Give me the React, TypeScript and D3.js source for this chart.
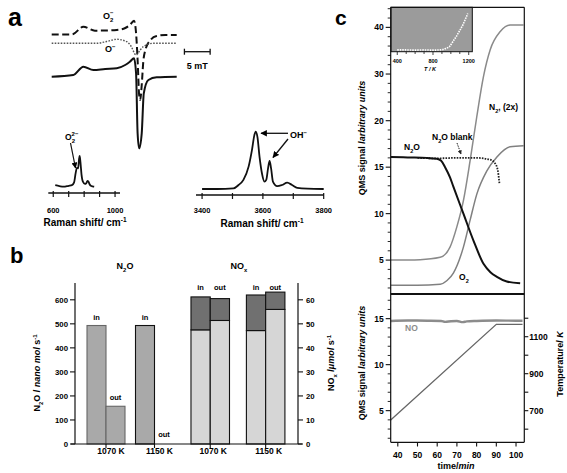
import React from "react";
import * as d3 from "d3";

// ---------------- Panel a: EPR spectra (field / mT, signal / a.u.) ----------------
const eprO2Field = [0, 3.6, 4.2, 6.15, 8.4, 10.4, 12.65, 14.3, 15.2, 16.0, 16.4, 16.7, 17.0, 17.2, 17.5, 17.8, 18.2, 19.2, 20.4, 22.1, 24.3];
const eprO2Signal = [115.5, 115.5, 116, 123.3, 119.3, 119.5, 120, 122, 125, 129.3, 117, 90, 55, 50, 65, 88, 100, 110, 114, 115, 115];
const eprOField = [0, 8.75, 10.7, 12.65, 14.6, 15.4, 16.4, 17.2, 17.8, 19.8, 24.3];
const eprOSignal = [106.7, 106.7, 108.5, 110.7, 108.3, 104, 95, 100, 103.3, 106.7, 106.7];
const eprSumField = [0, 4.2, 6.15, 8.1, 10.4, 12.65, 14.28, 15.2, 16.0, 16.4, 16.7, 17.0, 17.5, 17.9, 18.8, 20.4, 24.3];
const eprSumSignal = [73.3, 75, 83.3, 80, 81, 81.7, 85, 88.3, 91.7, 76.7, 16.7, 1.7, 16.7, 56.7, 70, 72.7, 73.3];
const scaleBarMT = 5;

// ---------------- Panel a: Raman spectra ----------------
const ramanLowShift = [613, 640, 666, 700, 721, 735, 745, 753, 761, 767, 771, 776, 783, 792, 805, 813, 822, 828, 836, 843, 855, 865];
const ramanLowInt = [0.06, 0.03, 0.01, 0.04, 0.06, 0.15, 0.45, 0.62, 0.6, 0.9, 1.0, 0.8, 0.4, 0.17, 0.1, 0.12, 0.2, 0.17, 0.08, 0.04, 0.02, 0.01];
const ramanLowTicks = [600, 700, 800, 900, 1000];
const ramanLowLabels = [600, 1000];
const ramanHighShift = [3400, 3450, 3503, 3520, 3536, 3553, 3564, 3572, 3576, 3582, 3589, 3597, 3605, 3611, 3617, 3622, 3627, 3633, 3647, 3663, 3680, 3696, 3713, 3746, 3800];
const ramanHighInt = [0, 0, 0.01, 0.07, 0.16, 0.39, 0.68, 0.94, 1, 0.91, 0.56, 0.27, 0.13, 0.16, 0.36, 0.49, 0.36, 0.13, 0.05, 0.07, 0.11, 0.07, 0.02, 0.005, 0];
const ramanHighTicks = [3400, 3500, 3600, 3700, 3800];
const ramanHighLabels = [3400, 3600, 3800];

// ---------------- Panel b: bars ----------------
const groupsK = ["1070 K", "1150 K"];
const n2oIn = [493, 493];
const n2oOut = [157, 0];
const noxInTotal = [61.2, 62];
const noxInLower = [47.5, 47.2];
const noxOutTotal = [60.5, 63.2];
const noxOutLower = [51.4, 56];
const n2oTicks = [0, 100, 200, 300, 400, 500, 600];
const noxTicks = [0, 10, 20, 30, 40, 50, 60];

// ---------------- Panel c: QMS signals vs time ----------------
const timeN2O = [36.45, 45, 54.7, 59.8, 62, 64, 66.5, 68.2, 73.3, 78.4, 83.5, 87, 90.3, 95.3, 102.1];
const sigN2O = [16.1, 16.05, 16.0, 15.9, 15.7, 15.0, 13.9, 12.9, 10.0, 7.1, 4.6, 3.7, 3.2, 2.7, 2.5];
const timeBlank = [50, 60, 70, 80, 86.9, 89.4, 90.8, 91.4, 91.6];
const sigBlank = [16.0, 15.95, 16.0, 16.0, 15.8, 15.4, 14.6, 13.6, 13.2];
const timeO2 = [36.45, 50, 61.5, 65, 68.2, 73.3, 76.7, 80.1, 85.2, 90.3, 97.0, 103.8];
const sigO2 = [2.3, 2.3, 2.4, 2.8, 3.6, 6.4, 9.3, 12.1, 14.6, 16.1, 17.2, 17.3];
const timeN2 = [36.45, 51.3, 61.5, 66.5, 70.0, 73.3, 76.7, 80.1, 83.5, 86.9, 92.0, 97.0, 103.8];
const sigN2 = [5.0, 5.05, 5.3, 6.4, 8.6, 11.4, 15.7, 20.9, 29.5, 35.2, 39.1, 40.5, 40.5];
const topMajorTicks = [5, 10, 15, 20, 30, 40];
const topMinorTicks = [2, 3, 4, 6, 7, 8, 9, 11, 12, 13, 14, 16, 17, 18, 19, 22, 24, 26, 28, 32, 34, 36, 38, 42, 44];
// inset: signal vs temperature
const insetT = [400, 500, 600, 700, 800, 870, 914, 950, 987, 1020, 1060, 1100, 1134, 1160, 1189];
const insetSig = [0.04, 0.04, 0.035, 0.04, 0.035, 0.04, 0.05, 0.08, 0.12, 0.22, 0.34, 0.48, 0.6, 0.72, 0.86];
const insetTicks = [400, 500, 600, 700, 800, 900, 1000, 1100, 1200];
const insetLabels = [400, 800, 1200];
// bottom: NO signal and temperature ramp
const timeNO = [36.4, 45, 55, 62, 64, 67, 70, 73, 75, 80, 90, 100, 103.3];
const sigNO = [14.75, 14.8, 14.78, 14.75, 14.65, 14.72, 14.75, 14.62, 14.7, 14.75, 14.8, 14.78, 14.78];
const timeTemp = [36.4, 90, 103.3];
const tempK = [650, 1167, 1167];
const timeTicks = [40, 50, 60, 70, 80, 90, 100];
const botMajorTicks = [5, 10, 15];
const botMinorTicks = [2, 3, 4, 6, 7, 8, 9, 11, 12, 13, 14, 16, 17];
const tempTicks = [600, 700, 800, 900, 1000, 1100, 1200];
const tempLabels = [700, 900, 1100];

const FONT = "Arial, 'Liberation Sans', Helvetica, sans-serif";

function makeLine(xs: number[], ys: number[], sx: (v: number) => number, sy: (v: number) => number, curve: any = d3.curveMonotoneX) {
  return d3.line<number>().x((i) => sx(xs[i])).y((i) => sy(ys[i])).curve(curve)(d3.range(xs.length)) || "";
}

// chemical formula: parts of [text, isSubscript]
function Chem({ parts, fs }: { parts: [string, boolean][]; fs: number }) {
  let shifted = false;
  const out: any[] = [];
  parts.forEach(([t, isSub], i) => {
    let dy = 0;
    if (isSub && !shifted) { dy = fs * 0.3; shifted = true; }
    else if (!isSub && shifted) { dy = -fs * 0.3; shifted = false; }
    out.push(
      <tspan key={i} dy={dy || undefined} fontSize={isSub ? fs * 0.65 : fs}>{t}</tspan>
    );
  });
  return <>{out}</>;
}

export default function App() {
  // ---- panel a scales ----
  const xEpr = d3.scaleLinear().domain([0, 24.3]).range([51.7, 176.7]);
  const yEpr = d3.scaleLinear().domain([0, 150]).range([150, 0]);
  const xRl = d3.scaleLinear().domain([568, 1032]).range([48.3, 120]);
  const yRl = d3.scaleLinear().domain([0, 1]).range([187, 156]);
  const xRh = d3.scaleLinear().domain([3380, 3801]).range([196, 324]);
  const yRh = d3.scaleLinear().domain([0, 1]).range([189, 131.7]);
  const barStart = xEpr(25.8);
  const barEnd = barStart + (xEpr(scaleBarMT) - xEpr(0));

  // ---- panel b scales ----
  const yN2O = d3.scaleLinear().domain([0, 600]).range([444, 299.8]);
  const yNOx = d3.scaleLinear().domain([0, 60]).range([444, 299.8]);
  const xN2OGroup = d3.scaleBand<string>().domain(groupsK).range([77.3, 183.2]).paddingInner(0.2165).paddingOuter(0.2);
  const xNOxGroup = d3.scaleBand<string>().domain(groupsK).range([179.9, 296]).paddingInner(0.305).paddingOuter(0.2);
  const inner = ["in", "out"];
  const xInN2O = d3.scaleBand<string>().domain(inner).range([0, xN2OGroup.bandwidth()]);
  const xInNOx = d3.scaleBand<string>().domain(inner).range([0, xNOxGroup.bandwidth()]);

  // ---- panel c scales ----
  const xT = d3.scaleLinear().domain([36.4, 104.2]).range([390.7, 524.3]);
  const yTop = d3.scaleLinear().domain([1.46, 20, 44.3]).range([293, 120.7, 7.3]);
  const yBot = d3.scaleLinear().domain([1.56, 17.68]).range([442.3, 294]);
  const yTemp = d3.scaleLinear().domain([529, 1331]).range([442.3, 294]);
  const xIn = d3.scaleLinear().domain([330, 1240]).range([391, 472.3]);
  const yIn = d3.scaleLinear().domain([0, 1]).range([51.7, 7.3]);

  const cL = 390.7, cR = 524.3;

  return (
    <svg width={567} height={473} style={{ position: "absolute", left: 0, top: 0, background: "#fff" }} fontFamily={FONT} fontWeight="bold">
      <defs>
        <marker id="ah" viewBox="0 0 10 10" refX="9" refY="5" markerWidth="5" markerHeight="5" orient="auto-start-reverse">
          <path d="M0,0 L10,5 L0,10 z" fill="#000" />
        </marker>
        <marker id="ahs" viewBox="0 0 10 10" refX="9" refY="5" markerWidth="4" markerHeight="4" orient="auto-start-reverse">
          <path d="M0,0 L10,5 L0,10 z" fill="#222" />
        </marker>
      </defs>
      <rect x={0} y={0} width={567} height={473} fill="#fff" />

      {/* ===================== Panel a ===================== */}
      <text x={8} y={26} fontSize={25}>a</text>
      <path d={makeLine(eprO2Field, eprO2Signal, xEpr, yEpr)} fill="none" stroke="#111" strokeWidth={2} strokeDasharray="7,3.5" />
      <path d={makeLine(eprOField, eprOSignal, xEpr, yEpr)} fill="none" stroke="#555" strokeWidth={1.4} strokeDasharray="1.6,1.4" />
      <path d={makeLine(eprSumField, eprSumSignal, xEpr, yEpr)} fill="none" stroke="#111" strokeWidth={2} />
      <text x={103} y={19} fontSize={9}>O<tspan dy={3} fontSize={6}>2</tspan><tspan dx={-3.4} dy={-7.5} fontSize={6}>−</tspan></text>
      <text x={105} y={52} fontSize={9}>O<tspan dy={-3.5} fontSize={6}>−</tspan></text>
      <line x1={barStart} x2={barEnd} y1={51.7} y2={51.7} stroke="#111" strokeWidth={1.3} />
      <line x1={barStart} x2={barStart} y1={48.7} y2={54.7} stroke="#111" strokeWidth={1.3} />
      <line x1={barEnd} x2={barEnd} y1={48.7} y2={54.7} stroke="#111" strokeWidth={1.3} />
      <text x={(barStart + barEnd) / 2} y={69} fontSize={9} textAnchor="middle">5 mT</text>

      {/* Raman low */}
      <path d={makeLine(ramanLowShift, ramanLowInt, xRl, yRl)} fill="none" stroke="#111" strokeWidth={1.8} />
      <line x1={48.3} x2={120} y1={193} y2={193} stroke="#111" strokeWidth={1.3} />
      {ramanLowTicks.map((t) => (
        <line key={t} x1={xRl(t)} x2={xRl(t)} y1={191} y2={197} stroke="#111" strokeWidth={1.2} />
      ))}
      {ramanLowLabels.map((t) => (
        <text key={t} x={xRl(t)} y={212.5} fontSize={7.5} textAnchor="middle">{t}</text>
      ))}
      <text x={85} y={226} fontSize={10} textAnchor="middle">Raman shift/ cm<tspan dy={-4} fontSize={6.5}>-1</tspan></text>
      <text x={65} y={140} fontSize={8.5}>O<tspan dy={3} fontSize={6}>2</tspan><tspan dx={-3.4} dy={-7.5} fontSize={6}>2−</tspan></text>
      <line x1={70.5} y1={143} x2={75.5} y2={168} stroke="#111" strokeWidth={1.2} markerEnd="url(#ah)" />

      {/* Raman high */}
      <path d={makeLine(ramanHighShift, ramanHighInt, xRh, yRh)} fill="none" stroke="#111" strokeWidth={1.8} />
      <line x1={196} x2={324} y1={195} y2={195} stroke="#111" strokeWidth={1.3} />
      {ramanHighTicks.map((t) => (
        <line key={t} x1={xRh(t)} x2={xRh(t)} y1={193} y2={199} stroke="#111" strokeWidth={1.2} />
      ))}
      {ramanHighLabels.map((t) => (
        <text key={t} x={xRh(t)} y={212.5} fontSize={7.5} textAnchor="middle">{t}</text>
      ))}
      <text x={262} y={227} fontSize={10} textAnchor="middle">Raman shift/ cm<tspan dy={-4} fontSize={6.5}>-1</tspan></text>
      <text x={290} y={138} fontSize={9}>OH<tspan dy={-3.5} fontSize={6}>−</tspan></text>
      <line x1={288} y1={133.3} x2={261} y2={133.3} stroke="#111" strokeWidth={1.3} markerEnd="url(#ah)" />
      <line x1={288} y1={139} x2={273} y2={157.5} stroke="#111" strokeWidth={1.3} markerEnd="url(#ah)" />

      {/* ===================== Panel b ===================== */}
      <text x={10} y={263} fontSize={22}>b</text>
      <text x={125} y={269} fontSize={9} textAnchor="middle"><Chem fs={9} parts={[["N", false], ["2", true], ["O", false]]} /></text>
      <text x={239} y={269} fontSize={9} textAnchor="middle"><Chem fs={9} parts={[["NO", false], ["x", true]]} /></text>

      {/* N2O bars */}
      {groupsK.map((g, i) => {
        const gx = xN2OGroup(g) as number;
        const bars = [
          { k: "in", v: n2oIn[i] },
          { k: "out", v: n2oOut[i] },
        ];
        return (
          <g key={"n2o" + g}>
            {bars.map((b) =>
              b.v > 0 ? (
                <rect key={b.k} x={gx + (xInN2O(b.k) as number)} y={yN2O(b.v)} width={xInN2O.bandwidth()} height={yN2O(0) - yN2O(b.v)} fill="#a9a9a9" stroke={i === 1 ? "#111" : "#666"} strokeWidth={1.1} />
              ) : null
            )}
            {bars.map((b) => (
              <text key={"t" + b.k} x={gx + (xInN2O(b.k) as number) + xInN2O.bandwidth() / 2} y={yN2O(b.v) - (b.v > 0 ? 6 : 7.5)} fontSize={7.5} textAnchor="middle">{b.k}</text>
            ))}
          </g>
        );
      })}

      {/* NOx stacked bars */}
      {groupsK.map((g, i) => {
        const gx = xNOxGroup(g) as number;
        const bars = [
          { k: "in", lo: noxInLower[i], tot: noxInTotal[i] },
          { k: "out", lo: noxOutLower[i], tot: noxOutTotal[i] },
        ];
        return (
          <g key={"nox" + g}>
            {bars.map((b) => {
              const bx = gx + (xInNOx(b.k) as number);
              const bw = xInNOx.bandwidth();
              return (
                <g key={b.k}>
                  <rect x={bx} y={yNOx(b.lo)} width={bw} height={yNOx(0) - yNOx(b.lo)} fill="#d6d6d6" stroke="#111" strokeWidth={1.1} />
                  <rect x={bx} y={yNOx(b.tot)} width={bw} height={yNOx(b.lo) - yNOx(b.tot)} fill="#707070" stroke="#111" strokeWidth={1.1} />
                  <text x={bx + bw / 2} y={290} fontSize={7.5} textAnchor="middle">{b.k}</text>
                </g>
              );
            })}
          </g>
        );
      })}

      {/* b axes */}
      <line x1={75} x2={75} y1={283} y2={444} stroke="#111" strokeWidth={1.2} />
      <line x1={298} x2={298} y1={283} y2={444} stroke="#111" strokeWidth={1.2} />
      <line x1={71} x2={302} y1={444} y2={444} stroke="#111" strokeWidth={1.2} />
      {n2oTicks.map((t) => (
        <g key={"lt" + t}>
          <line x1={70} x2={75} y1={yN2O(t)} y2={yN2O(t)} stroke="#111" strokeWidth={1.1} />
          <text x={68} y={yN2O(t)} dy="0.35em" fontSize={7.8} textAnchor="end">{t}</text>
        </g>
      ))}
      {noxTicks.map((t) => (
        <g key={"rt" + t}>
          <line x1={298} x2={303} y1={yNOx(t)} y2={yNOx(t)} stroke="#111" strokeWidth={1.1} />
          <text x={306} y={yNOx(t)} dy="0.35em" fontSize={7.8}>{t}</text>
        </g>
      ))}
      {groupsK.map((g) => {
        const c1 = (xN2OGroup(g) as number) + xN2OGroup.bandwidth() / 2;
        const c2 = (xNOxGroup(g) as number) + xNOxGroup.bandwidth() / 2;
        return (
          <g key={"xt" + g}>
            <line x1={c1} x2={c1} y1={444} y2={448} stroke="#111" strokeWidth={1.1} />
            <line x1={c2} x2={c2} y1={444} y2={448} stroke="#111" strokeWidth={1.1} />
            <text x={c1 + 5} y={454} fontSize={8.5} textAnchor="middle">{g}</text>
            <text x={c2 + 3} y={454} fontSize={8.5} textAnchor="middle">{g}</text>
          </g>
        );
      })}
      <text transform="translate(40,373) rotate(-90)" fontSize={9} textAnchor="middle">
        <Chem fs={9} parts={[["N", false], ["2", true], ["O / ", false]]} /><tspan fontStyle="italic">nano mol</tspan> s<tspan dy={-3.5} fontSize={6}>-1</tspan>
      </text>
      <text transform="translate(334,363) rotate(-90)" fontSize={9} textAnchor="middle">
        <Chem fs={9} parts={[["NO", false], ["x", true], [" /", false]]} /><tspan fontStyle="italic">μmol</tspan> s<tspan dy={-3.5} fontSize={6}>-1</tspan>
      </text>

      {/* ===================== Panel c ===================== */}
      <text x={335} y={25} fontSize={21}>c</text>

      {/* inset */}
      <rect x={391} y={7.3} width={472.3 - 391} height={51.7 - 7.3} fill="#9b9b9b" stroke="#111" strokeWidth={1} />
      <path d={makeLine(insetT, insetSig, xIn, yIn)} fill="none" stroke="#fff" strokeWidth={1.6} strokeDasharray="1.5,1" />
      {insetTicks.map((t) => (
        <line key={"it" + t} x1={xIn(t)} x2={xIn(t)} y1={51.7} y2={insetLabels.includes(t) ? 55 : 54} stroke="#111" strokeWidth={0.8} />
      ))}
      {insetLabels.map((t) => (
        <text key={"il" + t} x={xIn(t)} y={63} fontSize={5.5} textAnchor="middle">{t}</text>
      ))}
      <text x={430} y={71} fontSize={5.5} textAnchor="middle" fontStyle="italic">T / K</text>

      {/* top plot curves */}
      <path d={makeLine(timeO2, sigO2, xT, yTop)} fill="none" stroke="#808080" strokeWidth={1.5} />
      <path d={makeLine(timeN2, sigN2, xT, yTop)} fill="none" stroke="#8a8a8a" strokeWidth={1.5} />
      <path d={makeLine(timeBlank, sigBlank, xT, yTop)} fill="none" stroke="#222" strokeWidth={1.8} strokeDasharray="1.6,1.2" />
      <path d={makeLine(timeN2O, sigN2O, xT, yTop)} fill="none" stroke="#111" strokeWidth={2} />

      {/* top frame */}
      <line x1={cL} x2={cR} y1={7.3} y2={7.3} stroke="#111" strokeWidth={1.2} />
      <line x1={cL} x2={cL} y1={7.3} y2={294} stroke="#111" strokeWidth={1.2} />
      <line x1={cR} x2={cR} y1={7.3} y2={294} stroke="#111" strokeWidth={1.2} />
      <line x1={cL} x2={cR} y1={294} y2={294} stroke="#111" strokeWidth={2.2} />
      {topMajorTicks.map((t) => (
        <g key={"tm" + t}>
          <line x1={cL - 5} x2={cL} y1={yTop(t)} y2={yTop(t)} stroke="#111" strokeWidth={1.1} />
          <text x={cL - 7} y={yTop(t)} dy="0.35em" fontSize={8.5} textAnchor="end">{t}</text>
        </g>
      ))}
      {topMinorTicks.map((t) => (
        <line key={"tn" + t} x1={cL - 3} x2={cL} y1={yTop(t)} y2={yTop(t)} stroke="#111" strokeWidth={0.9} />
      ))}
      <text transform="translate(365,138) rotate(-90)" fontSize={9} textAnchor="middle">
        QMS signal /<tspan fontStyle="italic">arbitrary units</tspan>
      </text>
      <text x={489} y={110} fontSize={8.5}><Chem fs={8.5} parts={[["N", false], ["2", true], [", (2x)", false]]} /></text>
      <text x={432} y={140} fontSize={8.5}><Chem fs={8.5} parts={[["N", false], ["2", true], ["O blank", false]]} /></text>
      <line x1={457} y1={143} x2={461} y2={154} stroke="#222" strokeWidth={1} strokeDasharray="1.5,1" markerEnd="url(#ahs)" />
      <text x={404} y={150} fontSize={8.5}><Chem fs={8.5} parts={[["N", false], ["2", true], ["O", false]]} /></text>
      <text x={459} y={280} fontSize={8.5}><Chem fs={8.5} parts={[["O", false], ["2", true]]} /></text>

      {/* bottom plot */}
      <path d={makeLine(timeNO, sigNO, xT, yBot)} fill="none" stroke="#8c8c8c" strokeWidth={2.4} />
      <path d={makeLine(timeTemp, tempK, xT, yTemp, d3.curveLinear)} fill="none" stroke="#666" strokeWidth={1.3} />
      <text x={405} y={331} fontSize={8.5} fill="#8c8c8c">NO</text>
      <line x1={cL} x2={cL} y1={294} y2={442.3} stroke="#111" strokeWidth={1.2} />
      <line x1={cR} x2={cR} y1={294} y2={442.3} stroke="#111" strokeWidth={1.2} />
      <line x1={cL} x2={cR} y1={442.3} y2={442.3} stroke="#111" strokeWidth={1.2} />
      {botMajorTicks.map((t) => (
        <g key={"bm" + t}>
          <line x1={cL - 5} x2={cL} y1={yBot(t)} y2={yBot(t)} stroke="#111" strokeWidth={1.1} />
          <text x={cL - 7} y={yBot(t)} dy="0.35em" fontSize={8.5} textAnchor="end">{t}</text>
        </g>
      ))}
      {botMinorTicks.map((t) => (
        <line key={"bn" + t} x1={cL - 3} x2={cL} y1={yBot(t)} y2={yBot(t)} stroke="#111" strokeWidth={0.9} />
      ))}
      {tempTicks.map((t) => (
        <line key={"tt" + t} x1={cR} x2={cR + 4} y1={yTemp(t)} y2={yTemp(t)} stroke="#111" strokeWidth={1.1} />
      ))}
      {tempLabels.map((t) => (
        <text key={"tl" + t} x={cR + 5} y={yTemp(t)} dy="0.35em" fontSize={8.5}>{t}</text>
      ))}
      {timeTicks.map((t) => (
        <g key={"xt" + t}>
          <line x1={xT(t)} x2={xT(t)} y1={442.3} y2={446.5} stroke="#111" strokeWidth={1.1} />
          <text x={xT(t)} y={457.5} fontSize={8.5} textAnchor="middle">{t}</text>
        </g>
      ))}
      <text x={456} y={469} fontSize={9} textAnchor="middle">time/<tspan fontStyle="italic">min</tspan></text>
      <text transform="translate(365,363) rotate(-90)" fontSize={9} textAnchor="middle">
        QMS signal /<tspan fontStyle="italic">arbitrary units</tspan>
      </text>
      <text transform="translate(563,364) rotate(-90)" fontSize={9} textAnchor="middle">
        Temperature/ <tspan fontStyle="italic">K</tspan>
      </text>
    </svg>
  );
}
